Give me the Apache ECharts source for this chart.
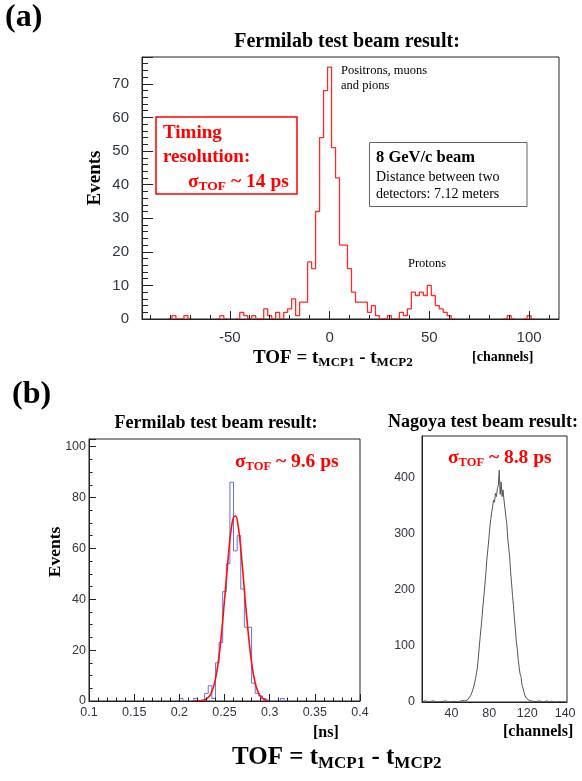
<!DOCTYPE html>
<html><head><meta charset="utf-8">
<script src="https://cdn.jsdelivr.net/npm/echarts@6/dist/echarts.min.js"></script>
<style>html,body{margin:0;padding:0;background:#fff}#c{width:582px;height:781px}</style>
</head><body><div id="c"></div>
<script>
// ---- (a) Fermilab TOF histogram: 2-channel bins (bin centres, counts) ----
const fermiChCenters = [-78,-72,-54,-44,-42,-38,-32,-30,-26,-22,-20,-18,-16,-14,-12,-10,-8,-6,-4,-2,0,2,4,6,8,10,12,14,16,18,20,22,24,30,36,38,40,42,44,46,48,50,52,54,56,58,60,90,100];
const fermiChCounts  = [1,1,1,2,1,1,3,1,2,2,3,6,1,5,5,17,15,32,54,68,75,51,42,22,22,15,8,5,5,5,2,4,1,1,2,1,3,8,7,8,7,10,7,4,3,2,1,1,1];
const fermiChBinWidth = 2;
const topXTicks = [-50, 0, 50, 100];
const topXMinorTicks = [-90,-80,-70,-60,-50,-40,-30,-20,-10,0,10,20,30,40,50,60,70,80,90,100,110];

// ---- (b) left: Fermilab histogram in ns (bin left edges, counts) ----
const fermiNsBinLeft = [0.200,0.216,0.228,0.232,0.236,0.240,0.244,0.248,0.252,0.256,0.260,0.264,0.268,0.272,0.276,0.280,0.284,0.288,0.292,0.312];
const fermiNsCounts  = [1,1,3,6,1,15,23,43,54,86,59,65,44,29,29,7,3,2,1,1];
const fermiNsBinWidth = 0.004;
// fitted curve
const fitNs     = [0.215,0.22,0.225,0.23,0.235,0.24,0.245,0.25,0.255,0.2575,0.26,0.2625,0.265,0.2675,0.27,0.275,0.28,0.285,0.29,0.295,0.30];
const fitEvents = [0,0.1,0.2,0.8,2.8,8.6,20.7,39.6,60,67.8,72.2,72.7,69,61.8,52,31.5,15,5.7,1.7,0.4,0.1];

// ---- (b) right: Nagoya histogram, 1-channel bins starting at channel 10 ----
const nagoyaFirstChannel = 10;
const nagoyaCounts = [
  1,0,1,2,0,1,0,1,1,0, 2,1,0,1,0,0,1,2,1,0, 1,1,0,1,2,0,1,1,0,1, 2,1,0,1,1,2,1,0,2,1, 1,3,2,1,2,2,
  3,4,5,7,9,12,16,21,27,34, 42,52,62,80,100,118,135,155,175,192, 212,232,255,272,290,310,325,338,348,360,
  356,372,366,380,386,413,370,392,366,378, 360,346,330,318,290,276,258,232,212,190, 172,148,130,108,95,76,62,50,45,30,
  25,18,12,9,6,4,3,2,2,
  1,2,1,0,1,1,0,2,1,0, 1,1,0,1,0,2,1,1,0,1, 0,1,1,0,2,1,0,1,0,1, 1,0,1,1,0,1,0
];
const nagoyaXTickPos  = [40, 80, 120, 160];
const nagoyaXTickText = ['40', '80', '120', '140'];

// ---- build series data ----
function keepNearNonZero(pts) {
  return pts.map((p, i) => {
    const prev = pts[i - 1], next = pts[i + 1];
    const near = p[1] > 0 || (prev && prev[1] > 0) || (next && next[1] > 0);
    return near ? p : [p[0], null];
  });
}
function buildTop() {
  const m = {};
  fermiChCenters.forEach((c, i) => m[c] = fermiChCounts[i]);
  const pts = [];
  for (let c = -94; c <= 114; c += fermiChBinWidth) pts.push([c, m[c] || 0]);
  return keepNearNonZero(pts);
}
function buildBlue() {
  const n = Math.round((0.4 - 0.1) / fermiNsBinWidth);
  const arr = new Array(n).fill(0);
  fermiNsBinLeft.forEach((l, i) => { arr[Math.round((l - 0.1) / fermiNsBinWidth)] = fermiNsCounts[i]; });
  return keepNearNonZero(arr.map((v, k) => [0.1 + (k + 0.5) * fermiNsBinWidth, v]));
}
const topData = buildTop();
const blueData = buildBlue();
const fitData = fitNs.map((t, i) => [t, fitEvents[i]]);
const nagoyaData = nagoyaCounts.map((v, i) => [nagoyaFirstChannel + i, v]);

// ---- text helpers ----
const serif = '"Liberation Serif","Times New Roman",serif';
const sans = '"Liberation Sans",Arial,sans-serif';
function rich(size, sub, color, drop) {
  return {
    m: {fontSize: size, fontFamily: serif, fontWeight: 'bold', fill: color, lineHeight: Math.round(size * 1.15), verticalAlign: 'top'},
    s: {fontSize: sub, fontFamily: serif, fontWeight: 'bold', fill: color, lineHeight: sub, padding: [drop, 0, 0, 0], verticalAlign: 'top'}
  };
}
function label(x, y, text, o) {
  o = o || {};
  return {type: 'text', x: x, y: y, rotation: o.rot || 0, z: 100,
    style: {text: text, fontSize: o.size || 14, fontFamily: o.family || serif, fontWeight: o.weight || 'bold',
      fill: o.color || '#000', align: o.align || 'left', verticalAlign: 'middle', rich: o.rich}};
}
function box(x, y, w, h, stroke, lw) {
  return {type: 'rect', z: 90, shape: {x: x, y: y, width: w, height: h},
    style: {fill: '#fff', stroke: stroke, lineWidth: lw}};
}
const RED = '#ff0000';
const labelColor = '#303640';
const axisColor = '#222';

const graphics = [
  label(5, 18, '(a)', {size: 32}),
  label(347, 42, 'Fermilab test beam result:', {size: 20, align: 'center'}),
  label(95, 178, 'Events', {size: 19, align: 'center', rot: Math.PI / 2}),
  label(253, 360, '{m|TOF = t}{s|MCP1}{m| - t}{s|MCP2}', {rich: rich(19, 13, '#000', 7)}),
  label(472, 357, '[channels]', {size: 14}),
  box(156, 117, 141, 77, RED, 1.5),
  label(163, 133, 'Timing', {size: 19, color: RED}),
  label(163, 157, 'resolution:', {size: 19, color: RED}),
  label(188, 183, '{m|σ}{s|TOF}{m| ~ 14 ps}', {rich: rich(19.5, 13.5, RED, 8)}),
  label(341, 71, 'Positrons, muons', {size: 12.5, weight: 'normal'}),
  label(341, 86, 'and pions', {size: 12.5, weight: 'normal'}),
  box(369.5, 142.5, 157.5, 64, '#666', 1),
  label(376, 158, '8 GeV/c beam', {size: 16.5}),
  label(376, 177, 'Distance between two', {size: 14, weight: 'normal'}),
  label(376, 194, 'detectors: 7.12 meters', {size: 14, weight: 'normal'}),
  label(408, 264, 'Protons', {size: 12.5, weight: 'normal'}),

  label(12, 395, '(b)', {size: 32}),
  label(216, 423, 'Fermilab test beam result:', {size: 18, align: 'center'}),
  label(483, 422, 'Nagoya test beam result:', {size: 18, align: 'center'}),
  label(55, 552, 'Events', {size: 17.5, align: 'center', rot: Math.PI / 2}),
  label(235, 463, '{m|σ}{s|TOF}{m| ~ 9.6 ps}', {rich: rich(19.5, 12.5, RED, 8)}),
  label(448, 459, '{m|σ}{s|TOF}{m| ~ 8.8 ps}', {rich: rich(19.5, 12.5, RED, 8)}),
  label(313, 733, '[ns]', {size: 16}),
  label(503, 732, '[channels]', {size: 16}),
  label(232, 760, '{m|TOF = t}{s|MCP1}{m| - t}{s|MCP2}', {rich: rich(25, 17, '#000', 10)})
];

const gridBase = {show: true, borderColor: axisColor, borderWidth: 1, backgroundColor: 'transparent', containLabel: false};
const noZero = {onZero: false, lineStyle: {color: axisColor}};
const option = {
  animation: false,
  backgroundColor: '#fff',
  grid: [
    Object.assign({left: 142, top: 57, width: 417, height: 262}, gridBase),
    Object.assign({left: 89, top: 439, width: 271, height: 262}, gridBase),
    Object.assign({left: 422, top: 436, width: 145, height: 266}, gridBase)
  ],
  xAxis: [
    {gridIndex: 0, type: 'value', min: -94, max: 115, z: 5, axisLine: noZero,
      axisTick: {inside: true, length: 8, customValues: topXTicks, lineStyle: {color: axisColor}},
      axisLabel: {customValues: topXTicks, margin: 11, fontSize: 15, fontFamily: sans, color: labelColor},
      splitLine: {show: false}},
    {gridIndex: 0, type: 'value', min: -94, max: 115, position: 'bottom', z: 5,
      axisLine: {show: false, onZero: false},
      axisTick: {inside: true, length: 4, customValues: topXMinorTicks, lineStyle: {color: axisColor}},
      axisLabel: {show: false}, splitLine: {show: false}},
    {gridIndex: 1, type: 'value', min: 0.1, max: 0.4, interval: 0.05, z: 5, axisLine: noZero,
      axisTick: {inside: true, length: 7, lineStyle: {color: axisColor}},
      minorTick: {show: true, splitNumber: 5, length: 3.5, lineStyle: {color: axisColor}},
      axisLabel: {margin: 5, fontSize: 12.5, fontFamily: sans, color: labelColor},
      splitLine: {show: false}, minorSplitLine: {show: false}},
    {gridIndex: 2, type: 'value', min: 9, max: 162, z: 5, axisLine: noZero,
      axisTick: {show: false},
      axisLabel: {customValues: nagoyaXTickPos, formatter: v => nagoyaXTickText[nagoyaXTickPos.indexOf(v)],
        margin: 5, fontSize: 12.5, fontFamily: sans, color: labelColor},
      splitLine: {show: false}}
  ],
  yAxis: [
    {gridIndex: 0, type: 'value', min: 0, max: 78, interval: 10, z: 5,
      axisLine: {show: true, onZero: false, lineStyle: {color: axisColor}},
      axisTick: {show: true, inside: true, length: 11, lineStyle: {color: axisColor}},
      minorTick: {show: true, splitNumber: 5, length: 6, lineStyle: {color: axisColor}},
      axisLabel: {margin: 13, fontSize: 15, fontFamily: sans, color: labelColor, showMaxLabel: false},
      splitLine: {show: false}, minorSplitLine: {show: false}},
    {gridIndex: 1, type: 'value', min: 0, max: 103, interval: 20, z: 5,
      axisLine: {show: true, onZero: false, lineStyle: {color: axisColor}},
      axisTick: {show: true, inside: true, length: 7, lineStyle: {color: axisColor}},
      minorTick: {show: true, splitNumber: 4, length: 3.5, lineStyle: {color: axisColor}},
      axisLabel: {margin: 3, fontSize: 12.5, fontFamily: sans, color: labelColor, showMaxLabel: false},
      splitLine: {show: false}, minorSplitLine: {show: false}},
    {gridIndex: 2, type: 'value', min: 0, max: 474, interval: 100, z: 5,
      axisLine: {show: true, onZero: false, lineStyle: {color: axisColor}},
      axisTick: {show: false},
      axisLabel: {margin: 7, fontSize: 12.5, fontFamily: sans, color: labelColor, showMaxLabel: false},
      splitLine: {show: false}}
  ],
  series: [
    {type: 'line', xAxisIndex: 0, yAxisIndex: 0, data: topData, step: 'middle', symbol: 'none', connectNulls: false,
      lineStyle: {color: '#ff2b2b', width: 1.3}, z: 3, clip: true},
    {type: 'line', xAxisIndex: 2, yAxisIndex: 1, data: blueData, step: 'middle', symbol: 'none', connectNulls: false,
      lineStyle: {color: '#6f6fd8', width: 1}, z: 3, clip: true},
    {type: 'line', xAxisIndex: 2, yAxisIndex: 1, data: fitData, smooth: 0.35, symbol: 'none',
      lineStyle: {color: '#ff1010', width: 1.6}, z: 4, clip: true},
    {type: 'line', xAxisIndex: 3, yAxisIndex: 2, data: nagoyaData, step: 'middle', symbol: 'none',
      lineStyle: {color: '#555', width: 1}, z: 3, clip: true}
  ],
  graphic: graphics
};
const chart = echarts.init(document.getElementById('c'), null, {renderer: 'canvas'});
chart.setOption(option);
</script>
</body></html>
